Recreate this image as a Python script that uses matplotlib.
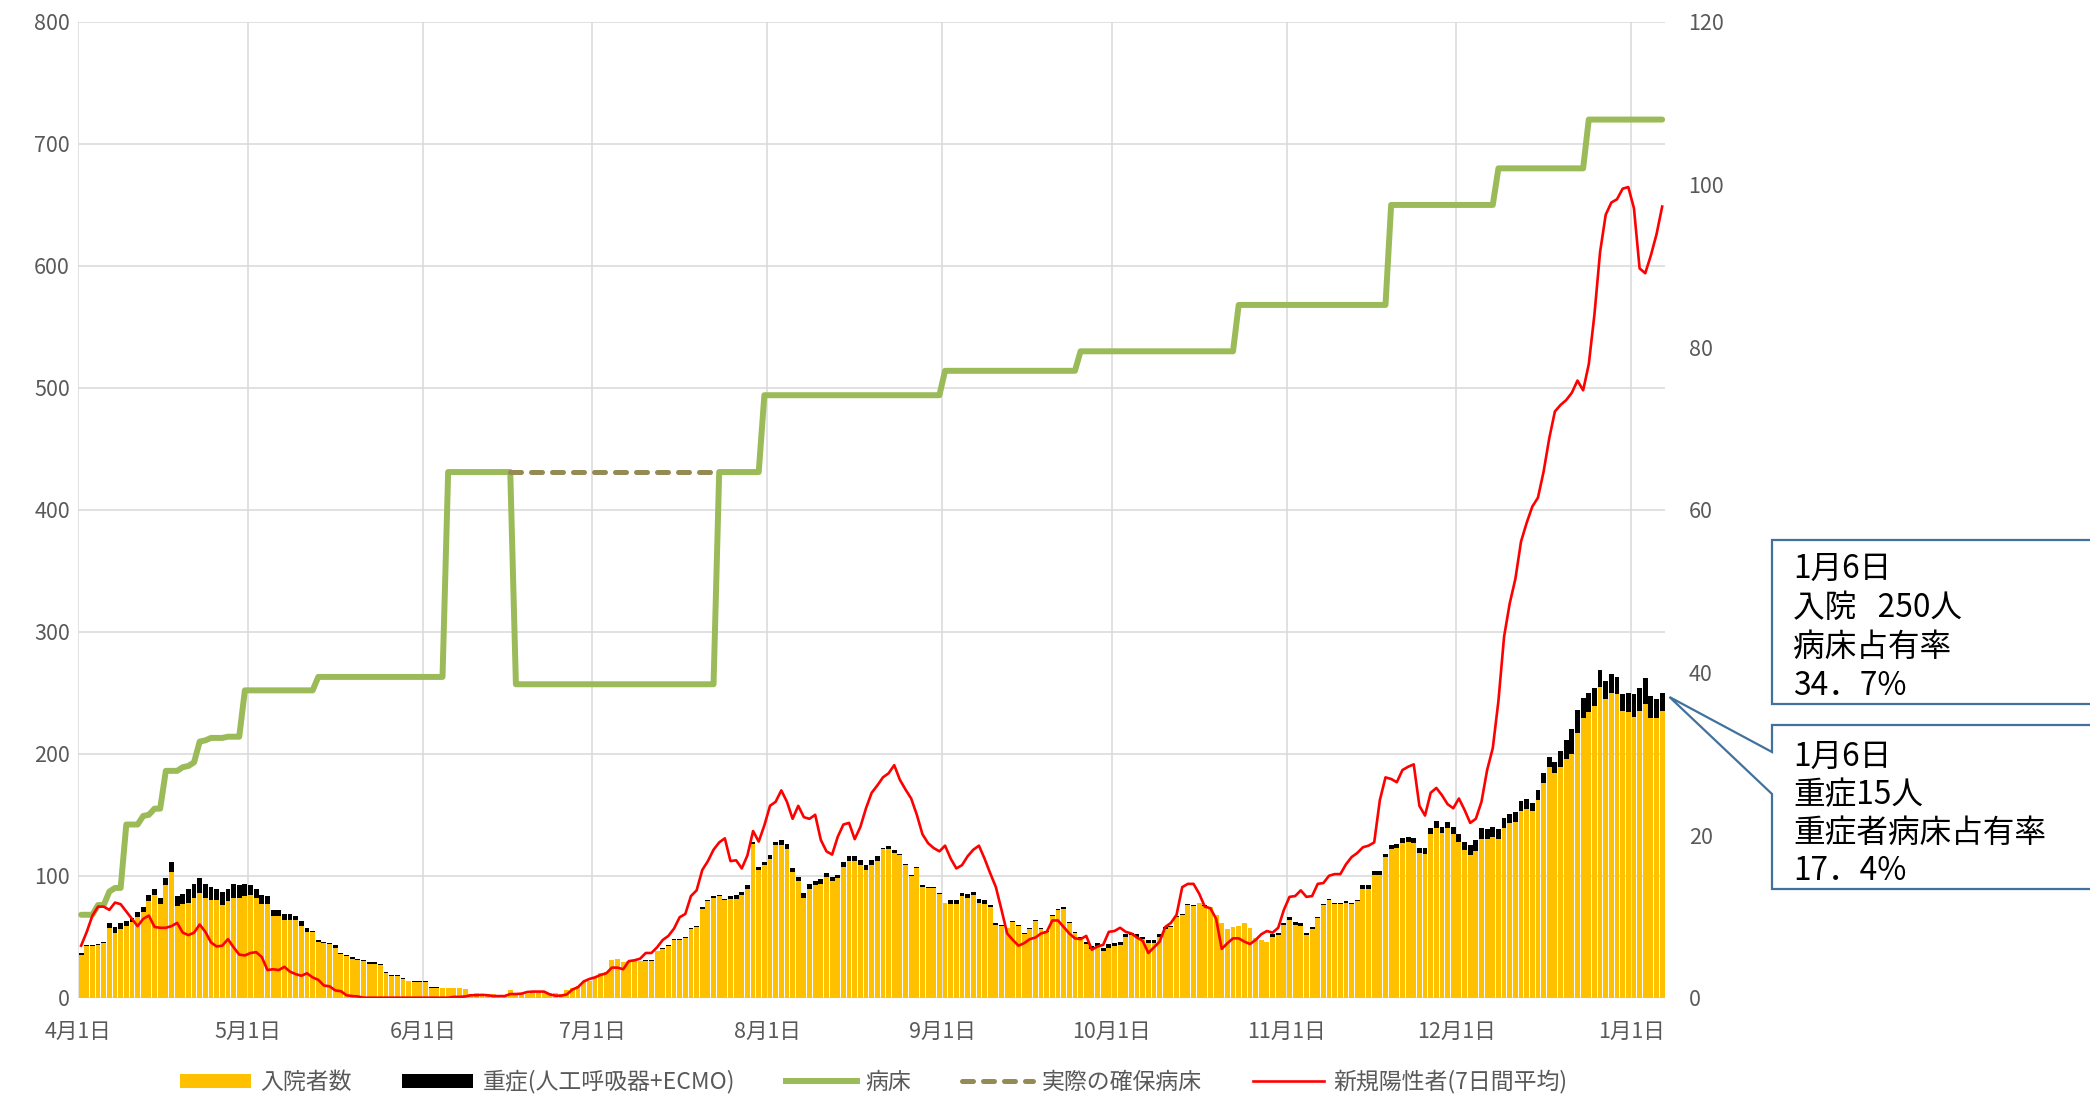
import numpy as np
import matplotlib
matplotlib.use("Agg")
import matplotlib.pyplot as plt
from matplotlib.patches import Patch, Polygon
from matplotlib.lines import Line2D

plt.rcParams["font.family"] = ["Noto Sans CJK JP", "DejaVu Sans"]

W, H = 2090, 1095

# --- data (one value per day, 4/1 .. 1/6) ---
MONTH_LABELS = ["4月1日", "5月1日", "6月1日", "7月1日", "8月1日", "9月1日",
                "10月1日", "11月1日", "12月1日", "1月1日"]
MONTH_DAYS = [30, 31, 30, 31, 31, 30, 31, 30, 31, 6]

# 入院者数 (total incl. severe)
HOSP = [
    # Apr
    37, 43, 43, 44, 46, 61, 58, 61, 63, 65, 70, 74, 84, 89, 82, 98, 111, 83, 85, 89,
    93, 98, 93, 91, 89, 87, 89, 93, 92, 93,
    # May
    92, 89, 84, 83, 72, 72, 69, 69, 67, 63, 57, 55, 47, 46, 45, 43, 37, 35, 33, 32,
    31, 29, 29, 28, 21, 19, 19, 16, 14, 14, 14,
    # Jun
    14, 9, 9, 8, 8, 8, 8, 7, 3, 4, 3, 3, 3, 2, 2, 6, 3, 3, 3, 4,
    4, 4, 4, 4, 3, 6, 8, 10, 13, 14,
    # Jul
    16, 20, 21, 31, 32, 29, 30, 30, 30, 31, 31, 38, 41, 43, 48, 48, 50, 57, 59, 74,
    80, 83, 84, 81, 83, 84, 87, 92, 128, 107, 111,
    # Aug
    117, 128, 129, 126, 106, 99, 86, 93, 96, 97, 102, 99, 101, 111, 116, 116, 113, 109, 113, 116,
    123, 124, 121, 118, 110, 101, 107, 92, 91, 91, 86,
    # Sep
    78, 80, 80, 86, 85, 87, 81, 80, 76, 61, 60, 57, 63, 60, 53, 57, 64, 57, 55, 68,
    73, 74, 62, 54, 50, 46, 42, 45, 41, 44,
    # Oct
    45, 46, 52, 53, 52, 50, 47, 47, 52, 58, 59, 67, 69, 77, 76, 78, 76, 74, 68, 61,
    56, 58, 59, 61, 57, 49, 47, 46, 52, 53, 61,
    # Nov
    66, 62, 61, 53, 58, 66, 77, 81, 78, 78, 79, 78, 80, 92, 92, 104, 104, 118, 125, 126,
    131, 132, 131, 123, 123, 139, 145, 140, 144, 140,
    # Dec
    134, 128, 125, 129, 139, 138, 140, 138, 147, 151, 152, 161, 163, 160, 170, 184, 197, 193, 202, 211,
    220, 236, 246, 250, 254, 269, 260, 265, 263, 249, 250,
    # Jan
    249, 254, 262, 247, 245, 250,
]

# 重症（人工呼吸器+ECMO）
SEVERE = [
    2, 1, 1, 1, 1, 4, 5, 5, 4, 3, 4, 4, 5, 5, 5, 6, 8, 8, 8, 11,
    11, 12, 11, 11, 9, 11, 10, 11, 10, 10,
    8, 7, 7, 6, 5, 5, 5, 5, 3, 4, 3, 1, 1, 1, 1, 2, 1, 1, 1, 1,
    1, 1, 1, 1, 1, 1, 1, 1, 0, 1, 1,
    1, 1, 1, 0, 0, 0, 0, 0, 0, 0, 0, 0, 0, 0, 0, 0, 0, 0, 0, 0,
    0, 0, 0, 0, 0, 0, 0, 0, 0, 0,
    0, 0, 0, 0, 0, 0, 0, 0, 0, 1, 1, 0, 1, 1, 1, 1, 1, 1, 1, 1,
    1, 1, 1, 1, 2, 3, 3, 3, 2, 2, 2,
    3, 3, 4, 4, 3, 3, 4, 4, 4, 4, 3, 3, 3, 4, 4, 4, 4, 4, 4, 4,
    1, 2, 2, 1, 1, 1, 1, 1, 1, 1, 1,
    0, 3, 3, 3, 3, 3, 3, 3, 2, 1, 1, 0, 1, 1, 1, 1, 1, 1, 1, 1,
    1, 1, 1, 1, 1, 2, 2, 3, 3, 3,
    3, 3, 2, 2, 2, 2, 2, 2, 2, 2, 1, 1, 1, 1, 1, 0, 1, 0, 0, 0,
    0, 0, 0, 0, 0, 0, 0, 0, 2, 2, 1,
    2, 2, 2, 2, 2, 1, 1, 1, 1, 1, 1, 1, 1, 3, 3, 3, 3, 3, 3, 3,
    4, 4, 4, 4, 5, 5, 6, 5, 5, 6,
    6, 7, 8, 9, 9, 8, 8, 8, 8, 8, 8, 8, 8, 7, 8, 8, 8, 9, 13, 15,
    20, 19, 17, 16, 15, 14, 15, 15, 14, 14, 16,
    19, 19, 21, 18, 16, 15,
]

# 新規陽性者(7日間平均)  -> right axis
POSITIVE_7D = [
    6.4, 8.1, 10.1, 11.2, 11.2, 10.8, 11.7, 11.5, 10.6, 9.7, 8.8, 9.7, 10.1, 8.7, 8.6, 8.6, 8.8, 9.2, 8.0, 7.7,
    8.0, 9.0, 8.1, 6.8, 6.3, 6.4, 7.2, 6.2, 5.3, 5.2,
    5.5, 5.6, 5.0, 3.4, 3.5, 3.4, 3.8, 3.2, 2.9, 2.7, 3.0, 2.5, 2.2, 1.5, 1.4, 0.9, 0.8, 0.3, 0.2, 0.15,
    0, 0, 0, 0, 0, 0, 0, 0, 0, 0, 0,
    0, 0, 0, 0, 0, 0.1, 0.1, 0.15, 0.3, 0.3, 0.35, 0.3, 0.2, 0.2, 0.2, 0.45, 0.45, 0.5, 0.7, 0.75,
    0.75, 0.75, 0.4, 0.25, 0.25, 0.4, 1.0, 1.3, 2.0, 2.3,
    2.5, 2.8, 3.0, 3.7, 3.7, 3.5, 4.5, 4.6, 4.8, 5.5, 5.5, 6.2, 7.1, 7.6, 8.5, 9.9, 10.3, 12.5, 13.2, 15.7,
    16.8, 18.2, 19.1, 19.6, 16.8, 16.9, 15.9, 17.5, 20.5, 19.2, 21.2,
    23.6, 24.1, 25.5, 24.1, 22.0, 23.6, 22.2, 22.0, 22.5, 19.4, 18.0, 17.6, 19.8, 21.3, 21.5, 19.5, 21.0, 23.3, 25.2, 26.1,
    27.1, 27.6, 28.6, 26.8, 25.6, 24.5, 22.5, 20.1, 19.0, 18.4, 18.0,
    18.7, 17.1, 15.9, 16.3, 17.4, 18.2, 18.7, 17.1, 15.3, 13.6, 10.8, 7.9, 7.1, 6.4, 6.7, 7.2, 7.4, 7.9, 8.1, 9.5,
    9.5, 8.7, 7.9, 7.3, 7.2, 7.6, 5.9, 6.3, 6.5, 8.1,
    8.2, 8.6, 8.1, 7.9, 7.4, 7.0, 5.5, 6.2, 6.9, 8.7, 9.2, 10.2, 13.6, 14.0, 14.0, 12.8, 11.2, 11.0, 9.7, 6.0,
    6.7, 7.3, 7.3, 6.9, 6.6, 7.1, 7.8, 8.2, 8.0, 8.6, 10.8,
    12.4, 12.5, 13.2, 12.4, 12.5, 14.0, 14.1, 15.0, 15.2, 15.2, 16.4, 17.3, 17.8, 18.5, 18.7, 19.1, 24.3, 27.1, 26.9, 26.5,
    28.0, 28.4, 28.7, 23.6, 22.4, 25.2, 25.8, 24.9, 23.8, 23.3,
    24.5, 23.1, 21.5, 22.0, 24.1, 28.0, 30.7, 36.5, 44.4, 48.5, 51.5, 56.1, 58.4, 60.4, 61.5, 64.7, 68.8, 72.1, 72.9, 73.5,
    74.4, 75.9, 74.7, 77.9, 84.0, 91.7, 96.3, 97.8, 98.2, 99.5, 99.7,
    97.1, 89.7, 89.1, 91.3, 93.9, 97.3,
]

# 病床: day index where the bed count changes, and the new count
BED_CHANGE_DAYS = [0, 3, 5, 6, 8, 11, 12, 13, 15, 18, 19, 20, 21, 22, 23, 26, 29, 42,
                   65, 77, 113, 121, 153, 177, 205, 232, 251, 267]
BED_CHANGE_VALUES = [68, 76, 87, 90, 142, 149, 150, 155, 186, 189, 190, 193, 210, 211, 213, 214, 252, 263,
                     431, 257, 431, 494, 514, 530, 568, 650, 680, 720]

# 実際の確保病床 (dashed while 病床 dropped)
SECURED_DAYS = [76, 113]
SECURED_VALUE = 431

CALLOUT_1 = ["1月6日", "入院   250人", "病床占有率", "34．7%"]
CALLOUT_2 = ["1月6日", "重症15人", "重症者病床占有率", "17．4%"]

# --- derived ---
n = sum(MONTH_DAYS)
assert len(HOSP) == n and len(SEVERE) == n and len(POSITIVE_7D) == n
days = np.arange(n)
hosp = np.array(HOSP, dtype=float)
severe = np.array(SEVERE, dtype=float)
beds = np.array(BED_CHANGE_VALUES)[np.searchsorted(BED_CHANGE_DAYS, days, side="right") - 1]
month_starts = np.concatenate([[0], np.cumsum(MONTH_DAYS)[:-1]])

TICK_COLOR = "#595959"
GRID_COLOR = "#D9D9D9"
YELLOW = "#FFC000"
GREEN = "#9BBB59"
OLIVE = "#948A54"
RED = "#FF0000"

fig = plt.figure(figsize=(W / 100, H / 100), dpi=100)
ax = fig.add_axes([78.3 / W, 1 - 997.7 / H, (1665 - 78.3) / W, (997.7 - 22) / H])

x = days + 0.5
ax.bar(x, hosp - severe, width=0.86, color=YELLOW, linewidth=0, zorder=2)
ax.bar(x, severe, bottom=hosp - severe, width=0.86, color="black", linewidth=0, zorder=2)
ax.plot(x, beds, color=GREEN, lw=4.3, solid_joinstyle="round", solid_capstyle="round", zorder=3)
ax.plot(np.array(SECURED_DAYS) + 0.5, [SECURED_VALUE] * 2, color=OLIVE, lw=3.6,
        linestyle=(0, (2.2, 2.0)), dash_capstyle="round", zorder=3)

ax.set_xlim(0, n)
ax.set_ylim(0, 800)
ax.set_yticks(np.arange(0, 801, 100))
ax.set_xticks(month_starts)
ax.set_xticklabels(MONTH_LABELS)
ax.grid(True, color=GRID_COLOR, lw=1.1)
ax.set_axisbelow(True)
ax.tick_params(axis="y", length=0, pad=6, labelsize=15.5, labelcolor=TICK_COLOR)
ax.tick_params(axis="x", length=0, pad=17, labelsize=15.5, labelcolor=TICK_COLOR)
for s in ax.spines.values():
    s.set_visible(False)

ax2 = ax.twinx()
ax2.plot(x, POSITIVE_7D, color=RED, lw=1.9, solid_joinstyle="round", zorder=4)
ax2.set_ylim(0, 120)
ax2.set_yticks(np.arange(0, 121, 20))
ax2.tick_params(axis="y", length=0, pad=17, labelsize=15.5, labelcolor=TICK_COLOR)
for s in ax2.spines.values():
    s.set_visible(False)

handles = [
    Patch(facecolor=YELLOW, edgecolor="none"),
    Patch(facecolor="black", edgecolor="none"),
    Line2D([], [], color=GREEN, lw=4.3),
    Line2D([], [], color=OLIVE, lw=3.6, linestyle=(0, (2.2, 2.0)), dash_capstyle="round"),
    Line2D([], [], color=RED, lw=1.9),
]
labels = ["入院者数", "重症(人工呼吸器+ECMO)", "病床", "実際の確保病床", "新規陽性者(7日間平均)"]
fig.legend(handles, labels, loc="center", bbox_to_anchor=(0.418, 0.012), ncol=5, frameon=False,
           fontsize=16.5, labelcolor=TICK_COLOR, handlelength=3.1, handleheight=0.55,
           handletextpad=0.4, columnspacing=2.2, borderpad=0.1)

# --- callouts ---
def fpt(px, py):
    return (px / W, 1 - py / H)

box_kw = dict(transform=fig.transFigure, closed=True, facecolor="white",
              edgecolor="#41719C", lw=1.6, zorder=10)
box1 = [fpt(1772, 540), fpt(2110, 540), fpt(2110, 704), fpt(1772, 704)]
box2 = [fpt(1772, 725), fpt(2110, 725), fpt(2110, 889), fpt(1772, 889),
        fpt(1772, 794), fpt(1669.5, 697), fpt(1772, 752)]
fig.add_artist(Polygon(box1, **box_kw))
fig.add_artist(Polygon(box2, **box_kw))

for i, line in enumerate(CALLOUT_1):
    fig.text(1793 / W, 1 - (569 + 39 * i) / H, line, fontsize=22.8, va="center", ha="left", zorder=11)
for i, line in enumerate(CALLOUT_2):
    fig.text(1793 / W, 1 - (757 + 38 * i) / H, line, fontsize=22.8, va="center", ha="left", zorder=11)

fig.savefig("out.png", dpi=100, facecolor="white")
